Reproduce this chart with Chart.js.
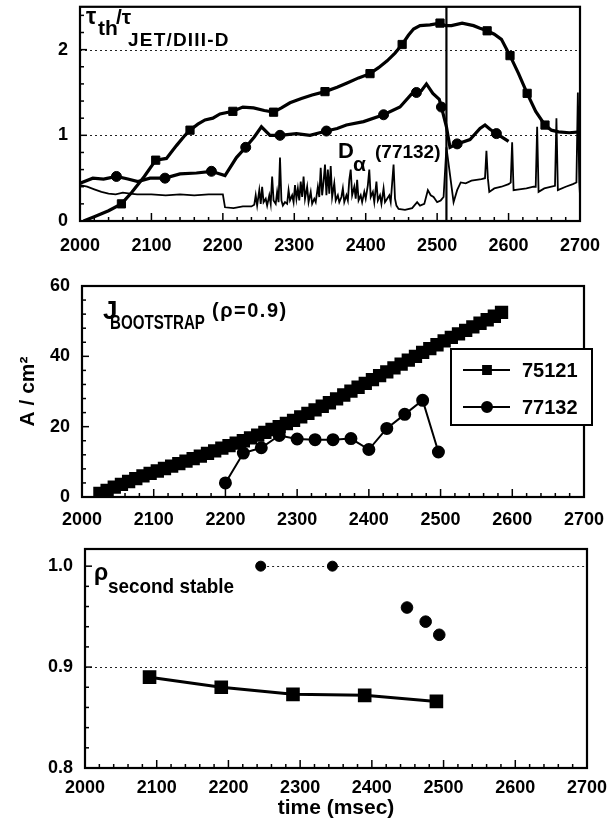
<!DOCTYPE html>
<html>
<head>
<meta charset="utf-8">
<script src="https://cdn.jsdelivr.net/npm/chart.js@4.4.1/dist/chart.umd.min.js"></script>
<style>
  body { margin: 0; background: #fff; width: 610px; height: 827px; position: relative; overflow: hidden;
         font-family: 'Liberation Sans', Arial, sans-serif; font-weight: bold; color: #000; }
  canvas { position: absolute; left: 0; }
  .lbl span { position: absolute; white-space: nowrap; line-height: 1; transform-origin: 0 0; }
</style>
</head>
<body>
<canvas id="tauChart" width="610" height="265" style="top:0"></canvas>
<canvas id="jbsChart" width="610" height="265" style="top:270px"></canvas>
<canvas id="rhoChart" width="610" height="292" style="top:535px"></canvas>

<div class="lbl">
  <span style="left:86px;top:5px;font-size:23px">τ</span>
  <span style="left:98px;top:17px;font-size:21px">th</span>
  <span style="left:116px;top:6px;font-size:21px">/τ</span>
  <span style="left:128px;top:30px;font-size:19px;letter-spacing:1.2px">JET/DIII-D</span>

  <span style="left:338px;top:140px;font-size:22px">D</span>
  <span style="left:353px;top:153px;font-size:21px">α</span>
  <span style="left:375px;top:142px;font-size:19px">(77132)</span>

  <span style="left:103px;top:297px;font-size:26px">J</span>
  <span style="left:110px;top:311px;font-size:21px;transform:scaleX(0.72)">BOOTSTRAP</span>
  <span style="left:212px;top:300px;font-size:20px;letter-spacing:1.5px">(ρ=0.9)</span>

  <span style="left:94px;top:561px;font-size:23px">ρ</span>
  <span style="left:108px;top:575px;font-size:21px;transform:scaleX(0.9)">second stable</span>
</div>

<script>
// time (msec), value
var tau75121 = [[2005,0],[2020,0.05],[2040,0.12],[2058,0.2],[2072,0.33],[2090,0.52],[2106,0.71],[2121,0.73],
  [2135,0.88],[2147,1.0],[2154,1.06],[2165,1.13],[2175,1.18],[2186,1.2],[2196,1.25],[2214,1.28],[2228,1.33],
  [2243,1.32],[2258,1.29],[2271,1.27],[2282,1.32],[2294,1.38],[2310,1.43],[2325,1.47],[2343,1.51],[2360,1.56],
  [2374,1.61],[2390,1.67],[2406,1.72],[2418,1.79],[2430,1.87],[2441,1.96],[2451,2.06],[2460,2.17],[2467,2.24],
  [2476,2.28],[2490,2.29],[2504,2.31],[2512,2.28],[2520,2.28],[2535,2.31],[2551,2.28],[2560,2.25],[2570,2.22],
  [2580,2.18],[2590,2.12],[2602,1.93],[2614,1.72],[2626,1.49],[2638,1.28],[2651,1.12],[2660,1.06],[2670,1.04],
  [2685,1.03],[2700,1.04]];
var tau75121Marks = [[2058,0.2],[2106,0.71],[2154,1.06],[2214,1.28],[2271,1.27],[2343,1.51],[2406,1.72],
  [2451,2.06],[2504,2.31],[2570,2.22],[2602,1.93],[2626,1.49],[2651,1.12]];

var tau77132 = [[2000,0.44],[2018,0.5],[2033,0.49],[2051,0.52],[2067,0.49],[2081,0.46],[2098,0.5],[2119,0.5],
  [2140,0.55],[2163,0.56],[2184,0.58],[2203,0.53],[2219,0.74],[2232,0.86],[2244,0.98],[2254,1.1],[2266,1.0],
  [2280,1.0],[2303,1.02],[2322,1.0],[2345,1.05],[2360,1.08],[2373,1.12],[2397,1.16],[2425,1.24],[2448,1.33],
  [2464,1.48],[2471,1.5],[2478,1.52],[2485,1.6],[2494,1.49],[2503,1.42],[2506,1.33],[2513,1.1],[2518,0.86],
  [2528,0.9],[2546,0.95],[2560,1.08],[2567,1.12],[2574,1.07],[2583,1.02],[2600,0.93]];
var tau77132Marks = [[2051,0.52],[2119,0.5],[2184,0.58],[2232,0.86],[2280,1.0],[2345,1.05],[2425,1.24],
  [2471,1.5],[2506,1.33],[2528,0.9],[2583,1.02]];

var dAlpha77132 = [[2000,0.42],[2010,0.4],[2020,0.37],[2030,0.34],[2040,0.32],[2050,0.31],[2060,0.33],[2070,0.32],
  [2080,0.31],[2100,0.31],[2120,0.3],[2140,0.31],[2160,0.3],[2180,0.31],[2200,0.31],[2203,0.16],[2215,0.15],
  [2228,0.17],[2240,0.17],[2244,0.19],[2246,0.3],[2248,0.18],[2251,0.36],[2253,0.2],[2255,0.4],[2257,0.22],
  [2260,0.26],[2262,0.18],[2265,0.3],[2267,0.2],[2269,0.52],[2271,0.24],[2274,0.2],[2276,0.34],[2278,0.22],
  [2280,0.74],[2282,0.24],[2284,0.18],[2287,0.22],[2290,0.2],[2292,0.36],[2294,0.24],[2297,0.3],[2299,0.22],
  [2301,0.42],[2303,0.26],[2305,0.38],[2307,0.24],[2309,0.46],[2311,0.28],[2313,0.52],[2315,0.26],[2318,0.4],
  [2320,0.22],[2323,0.34],[2325,0.2],[2328,0.26],[2330,0.22],[2333,0.4],[2335,0.28],[2337,0.62],[2339,0.3],
  [2341,0.46],[2343,0.66],[2345,0.3],[2347,0.6],[2349,0.32],[2351,0.64],[2353,0.28],[2356,0.44],[2358,0.24],
  [2361,0.3],[2363,0.22],[2366,0.28],[2368,0.38],[2370,0.22],[2373,0.3],[2375,0.24],[2377,0.48],[2379,0.6],
  [2381,0.3],[2384,0.4],[2386,0.26],[2388,0.48],[2390,0.24],[2393,0.3],[2395,0.22],[2398,0.34],[2400,0.26],
  [2403,0.42],[2405,0.6],[2407,0.28],[2410,0.34],[2412,0.22],[2415,0.46],[2417,0.24],[2420,0.3],[2422,0.2],
  [2425,0.38],[2427,0.22],[2430,0.26],[2433,0.3],[2435,0.22],[2437,0.44],[2439,0.66],[2441,0.26],[2443,0.18],
  [2446,0.14],[2455,0.13],[2465,0.15],[2472,0.22],[2476,0.18],[2482,0.2],[2487,0.36],[2491,0.3],[2495,0.28],
  [2500,0.22],[2505,0.24],[2509,0.28],[2513,0.86],[2523,0.22],[2528,0.36],[2533,0.45],[2540,0.44],[2548,0.47],
  [2555,0.48],[2562,0.49],[2567,0.5],[2569,0.82],[2571,0.5],[2573,0.34],[2580,0.38],[2590,0.4],[2600,0.43],
  [2603,0.45],[2605,0.92],[2607,0.36],[2615,0.37],[2625,0.38],[2635,0.4],[2638,0.4],[2640,1.1],[2642,0.34],
  [2650,0.38],[2660,0.4],[2665,0.41],[2667,1.2],[2669,0.36],[2680,0.4],[2690,0.43],[2695,0.45],[2697,1.5],
  [2699,0.45],[2700,0.3]];
var eventLine = [[2513,0],[2513,2.5]];

var jbsTimes75121 = [2025,2035,2045,2055,2065,2075,2085,2095,2105,2115,2125,2135,2145,2155,2165,2175,2185,2195,
  2205,2215,2225,2235,2245,2255,2265,2275,2285,2295,2305,2315,2325,2335,2345,2355,2365,2375,2385,2395,2405,2415,
  2425,2435,2445,2455,2465,2475,2485,2495,2505,2515,2525,2535,2545,2555,2565,2575,2585];
var jbsValues75121 = [1.0,1.9,2.8,3.6,4.4,5.2,6.0,6.7,7.4,8.1,8.8,9.5,10.2,10.9,11.6,12.4,13.1,13.9,14.6,15.3,16.0,
  16.8,17.6,18.4,19.2,20.0,20.9,21.8,22.8,23.8,24.8,25.8,26.8,27.9,29.0,30.1,31.2,32.3,33.4,34.5,35.6,36.7,37.8,
  38.9,40.0,41.1,42.2,43.3,44.4,45.4,46.4,47.4,48.4,49.4,50.4,51.4,52.5];
var jbsTimes77132 = [2200,2225,2250,2275,2300,2325,2350,2375,2400,2425,2450,2475,2497];
var jbsValues77132 = [4.0,12.5,14.0,17.5,16.5,16.3,16.3,16.6,13.5,19.5,23.5,27.5,12.8];

var rhoTimes75121 = [2090,2190,2290,2390,2490];
var rhoValues75121 = [0.890,0.880,0.873,0.872,0.866];
var rhoTimes77132 = [2245,2345,2449,2475,2494];
var rhoValues77132 = [1.0,1.0,0.959,0.945,0.932];

var shotNames = ['75121', '77132'];

var FONT = "'Liberation Sans', Arial, sans-serif";

function pairs(list) { return list.map(function(p) { return {x: p[0], y: p[1]}; }); }
function zip(xs, ys) { return xs.map(function(x, i) { return {x: x, y: ys[i]}; }); }

// box, inward ticks and dotted reference lines
var framePlugin = {
  id: 'frame',
  beforeDatasetsDraw: function(chart, args, o) {
    var ctx = chart.ctx, a = chart.chartArea, xs = chart.scales.x, ys = chart.scales.y;
    ctx.save();
    ctx.setLineDash([2, 3]);
    ctx.lineWidth = 1.2;
    ctx.strokeStyle = '#222';
    (o.lines || []).forEach(function(l) {
      var y = Math.round(ys.getPixelForValue(l[0])) + 0.5;
      ctx.beginPath();
      ctx.moveTo(xs.getPixelForValue(l[1]), y);
      ctx.lineTo(a.right, y);
      ctx.stroke();
    });
    ctx.restore();
  },
  afterDatasetsDraw: function(chart, args, o) {
    var ctx = chart.ctx, a = chart.chartArea, xs = chart.scales.x, ys = chart.scales.y;
    ctx.save();
    ctx.strokeStyle = '#000';
    ctx.lineWidth = 1.5;
    var i, n, px, py;
    n = Math.round((xs.max - xs.min) / o.xMinor);
    for (i = 0; i <= n; i++) {
      px = xs.getPixelForValue(xs.min + i * o.xMinor);
      ctx.beginPath();
      ctx.moveTo(px, a.bottom);
      ctx.lineTo(px, a.bottom - (i % o.xEvery === 0 ? 8 : 4));
      ctx.stroke();
    }
    n = Math.floor((ys.max - ys.min) / o.yMinor + 1e-6);
    for (i = 0; i <= n; i++) {
      py = ys.getPixelForValue(ys.min + i * o.yMinor);
      ctx.beginPath();
      ctx.moveTo(a.left, py);
      ctx.lineTo(a.left + (i % o.yEvery === 0 ? 7 : 4), py);
      ctx.stroke();
    }
    ctx.lineWidth = 2.2;
    ctx.strokeRect(a.left, a.top, a.right - a.left, a.bottom - a.top);
    ctx.restore();
  }
};

var legendPlugin = {
  id: 'boxLegend',
  afterDraw: function(chart, args, o) {
    if (!o.show) return;
    var ctx = chart.ctx;
    ctx.save();
    ctx.fillStyle = '#fff';
    ctx.fillRect(o.x, o.y, o.w, o.h);
    ctx.strokeStyle = '#000';
    ctx.lineWidth = 2;
    ctx.strokeRect(o.x, o.y, o.w, o.h);
    ctx.font = 'bold 20px ' + FONT;
    ctx.textBaseline = 'middle';
    chart.data.datasets.forEach(function(ds, i) {
      var y = o.y + o.rows[i];
      ctx.strokeStyle = '#000';
      ctx.lineWidth = 2;
      ctx.beginPath();
      ctx.moveTo(o.x + 12, y);
      ctx.lineTo(o.x + 59, y);
      ctx.stroke();
      ctx.fillStyle = '#000';
      Chart.helpers.drawPoint(ctx, {pointStyle: ds.pointStyle, radius: i === 0 ? 5.5 : 5, borderWidth: 1, rotation: 0}, o.x + 36, y);
      ctx.fillText(ds.label, o.x + 71, y + 1);
    });
    ctx.restore();
  }
};

function noPad(s) { s.paddingTop = 0; s.paddingBottom = 0; s.paddingLeft = 0; s.paddingRight = 0; }

function axisX(height, pad, title) {
  return {
    type: 'linear', min: 2000, max: 2700,
    grid: {display: false, drawTicks: false},
    border: {display: false},
    ticks: {stepSize: 100, padding: pad, color: '#000', maxRotation: 0,
            font: {family: FONT, size: 18, weight: 'bold'},
            callback: function(v) { return String(v); }},
    title: title || {display: false},
    afterFit: function(s) { s.height = height; noPad(s); }
  };
}

function axisY(min, max, step, width, digits, title) {
  return {
    type: 'linear', min: min, max: max,
    grid: {display: false, drawTicks: false},
    border: {display: false},
    ticks: {stepSize: step, padding: 12, color: '#000', includeBounds: false,
            font: {family: FONT, size: 18, weight: 'bold'},
            callback: function(v) { return v.toFixed(digits); }},
    title: title || {display: false},
    afterFit: function(s) { s.width = width; noPad(s); }
  };
}

function lineSet(data, width) {
  return {data: data, showLine: true, borderColor: '#000', borderWidth: width, pointRadius: 0, tension: 0};
}
function markSet(data, style, r) {
  return {data: data, showLine: false, pointStyle: style, pointRadius: r, backgroundColor: '#000',
          borderColor: '#000', borderWidth: 1};
}

var base = {
  responsive: false, animation: false,
  plugins: {legend: {display: false}, tooltip: {enabled: false}}
};
function opts(extra) { return Object.assign({}, base, extra); }

// top: confinement enhancement and D-alpha
new Chart(document.getElementById('tauChart'), {
  type: 'scatter',
  data: {datasets: [
    lineSet(pairs(dAlpha77132), 1.8),
    lineSet(pairs(tau77132), 3.2),
    lineSet(pairs(tau75121), 3.2),
    lineSet(pairs(eventLine), 2.2),
    markSet(pairs(tau75121Marks), 'rect', 5.8),
    markSet(pairs(tau77132Marks), 'circle', 5)
  ]},
  options: opts({
    layout: {padding: {top: 5, right: 30, left: 0, bottom: 0}},
    scales: {x: axisX(44, 14), y: axisY(0, 2.5, 1, 80, 0)},
    plugins: {legend: {display: false}, tooltip: {enabled: false},
              frame: {lines: [[1, 2000], [2, 2000]], xMinor: 20, xEvery: 5, yMinor: 0.2, yEvery: 5},
              boxLegend: {show: false}}
  }),
  plugins: [framePlugin, legendPlugin]
});

// middle: bootstrap current at rho = 0.9
new Chart(document.getElementById('jbsChart'), {
  type: 'scatter',
  data: {datasets: [
    Object.assign(markSet(zip(jbsTimes75121, jbsValues75121), 'rect', 8), {label: shotNames[0], showLine: true, borderWidth: 2}),
    Object.assign(markSet(zip(jbsTimes77132, jbsValues77132), 'circle', 5.5), {label: shotNames[1], showLine: true, borderWidth: 2})
  ]},
  options: opts({
    layout: {padding: {top: 16, right: 26, left: 0, bottom: 0}},
    scales: {x: axisX(38, 12),
             y: axisY(0, 60, 20, 82, 0, {display: true, text: 'A / cm²', color: '#000',
                  font: {family: FONT, size: 21, weight: 'bold'}, padding: {top: 16, bottom: 0}})},
    plugins: {legend: {display: false}, tooltip: {enabled: false},
              frame: {lines: [], xMinor: 20, xEvery: 5, yMinor: 4, yEvery: 5},
              boxLegend: {show: true, x: 451, y: 79, w: 141, h: 76, rows: [21, 58]}}
  }),
  plugins: [framePlugin, legendPlugin]
});

// bottom: second stability boundary
new Chart(document.getElementById('rhoChart'), {
  type: 'scatter',
  data: {datasets: [
    Object.assign(markSet(zip(rhoTimes75121, rhoValues75121), 'rect', 7.5), {label: shotNames[0], showLine: true, borderWidth: 3}),
    Object.assign(markSet(zip(rhoTimes77132, rhoValues77132), 'circle', [5, 5, 5.8, 5.8, 5.8]), {label: shotNames[1]})
  ]},
  options: opts({
    layout: {padding: {top: 14, right: 23, left: 0, bottom: 0}},
    scales: {x: axisX(59, 9, {display: true, text: 'time (msec)', color: '#000',
                  font: {family: FONT, size: 21, weight: 'bold'}, padding: {top: 0, bottom: 6}}),
             y: axisY(0.8, 1.017, 0.1, 85, 1)},
    plugins: {legend: {display: false}, tooltip: {enabled: false},
              frame: {lines: [[0.9, 2000], [1.0, 2240]], xMinor: 20, xEvery: 5, yMinor: 0.02, yEvery: 5},
              boxLegend: {show: false}}
  }),
  plugins: [framePlugin, legendPlugin]
});
</script>
</body>
</html>
